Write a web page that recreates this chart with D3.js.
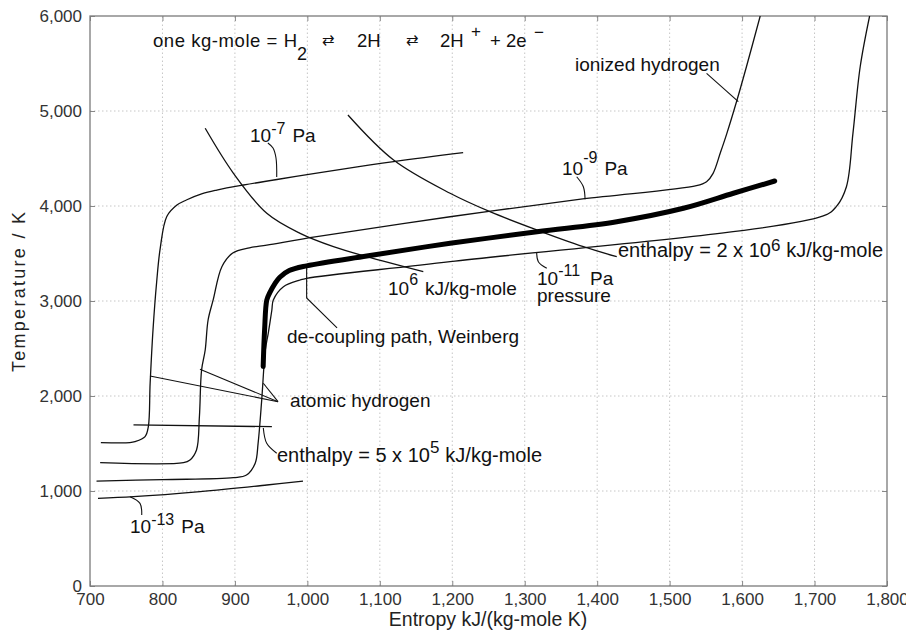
<!DOCTYPE html>
<html>
<head>
<meta charset="utf-8">
<script src="https://cdn.jsdelivr.net/npm/d3@7"></script>
<style>
  body { margin: 0; background: #fff; }
  svg { display: block; }
  text { font-family: "Liberation Sans", Arial, Helvetica, sans-serif; }
</style>
</head>
<body>
<svg id="chart" width="906" height="632"></svg>
<script>
// axis ticks
const xTicks = [700, 800, 900, 1000, 1100, 1200, 1300, 1400, 1500, 1600, 1700, 1800];
const yTicks = [0, 1000, 2000, 3000, 4000, 5000, 6000];

// isobars: [entropy, temperature]
const isobar7 = [[715,1509],[755,1509],[762,1519],[776,1572],[780.5,1677],[783,2134],[787,2700],[792,3200],[797,3560],[806,3890],[820,4010],[833,4063],[855,4130],[875,4168],[912,4221],[958,4279],[1119,4466],[1215,4561]];
const isobar9 = [[714,1298],[829,1298],[838,1326],[847,1431],[851,1782],[854,2274],[859,2484],[863,2800],[870,3011],[882,3361],[897,3505],[920,3560],[944,3589],[1013,3677],[1197,3887],[1380,4074],[1537,4214],[1551,4256],[1560,4344],[1570,4560],[1579,4765],[1593,5116],[1606,5466],[1625,6000]];
const isobar11 = [[709,1105],[800,1120],[898,1140],[916,1168],[928,1292],[932,1502],[937,1958],[942,2484],[946,2660],[951,2905],[953,3011],[967,3151],[990,3221],[999,3239],[1197,3414],[1712,3895],[1730,3993],[1744,4203],[1753,4765],[1763,5466],[1776,6000]];
const isobar13 = [[711,923],[760,940],[852,993],[944,1063],[994,1105]];

// de-coupling path (Weinberg)
const decoupling = [[939,2310],[941,2700],[944,3010],[948,3085],[955,3180],[962,3250],[975,3320],[999,3370],[1082,3474],[1197,3607],[1317,3729],[1427,3835],[1519,3976],[1588,4134],[1645,4263]];

// constant enthalpy lines
const enthalpy1e6 = [[859,4818],[898,4344],[944,3923],[990,3712],[1036,3572],[1082,3466],[1160,3308]];
const enthalpy2e6 = [[1056,4958],[1119,4484],[1197,4134],[1252,3940],[1317,3747],[1381,3572],[1427,3466]];
const enthalpy5e5 = [[760,1695],[951,1677]];

// label leaders
const leader7 = [[945.5,4663],[952.6,4610],[956.7,4505],[957.7,4305]];
const leader9 = [[1371.7,4308],[1380.9,4203],[1383.3,4070]];
const leader11 = [[1316.5,3510],[1318.8,3414],[1330.4,3344]];
const leader13 = [[755.2,940],[769,870],[771.4,747]];
const leaderIonized = [[1551,5397],[1594.8,5098]];
const leaderDecoupling = [[999,3368],[999,3032],[1041,2716]];
const leaderAtomicA = [[782.8,2210],[959.5,1940]];
const leaderAtomicB = [[851.8,2281],[959.5,1940]];
const leaderAtomicC = [[939.2,2134],[959.5,1940]];
const leader5e5 = [[939.2,1663],[943.9,1502],[957.7,1397]];

const svg = d3.select('#chart');
const x = d3.scaleLinear().domain([700, 1800]).range([90, 887]);
const y = d3.scaleLinear().domain([0, 6000]).range([586, 16]);

// grid
const grid = svg.append('g').attr('stroke', '#c6c6c6').attr('stroke-dasharray', '1.5,2.5');
grid.selectAll('.gx').data(xTicks.slice(1, -1)).join('line')
    .attr('x1', d => x(d)).attr('x2', d => x(d))
    .attr('y1', y(0)).attr('y2', y(6000));
grid.selectAll('.gy').data(yTicks.slice(1, -1)).join('line')
    .attr('x1', x(700)).attr('x2', x(1800))
    .attr('y1', d => y(d)).attr('y2', d => y(d));

// axes
const fmt = d3.format(',');
function styleAxis(g) {
    g.select('.domain').remove();
    g.attr('font-family', '"Liberation Sans", Arial, sans-serif').attr('font-size', 17);
    g.selectAll('line').attr('stroke', '#888');
    g.selectAll('text').attr('fill', '#333');
}
svg.append('g').attr('transform', `translate(0,${y(0)})`)
    .call(d3.axisBottom(x).tickValues(xTicks).tickFormat(fmt).tickSize(-5).tickPadding(7)).call(styleAxis);
svg.append('g').attr('transform', `translate(0,${y(6000)})`)
    .call(d3.axisTop(x).tickValues(xTicks).tickFormat('').tickSize(-5)).call(styleAxis);
svg.append('g').attr('transform', `translate(${x(700)},0)`)
    .call(d3.axisLeft(y).tickValues(yTicks).tickFormat(fmt).tickSize(-5).tickPadding(8)).call(styleAxis);
svg.append('g').attr('transform', `translate(${x(1800)},0)`)
    .call(d3.axisRight(y).tickValues(yTicks).tickFormat('').tickSize(-5)).call(styleAxis);

svg.append('rect')
    .attr('x', x(700)).attr('y', y(6000))
    .attr('width', x(1800) - x(700)).attr('height', y(0) - y(6000))
    .attr('fill', 'none').attr('stroke', '#7a7a7a').attr('stroke-width', 1.3);

// clip
svg.append('clipPath').attr('id', 'plot')
    .append('rect').attr('x', x(700)).attr('y', y(6000))
    .attr('width', x(1800) - x(700)).attr('height', y(0) - y(6000));

const smooth = d3.line().x(d => x(d[0])).y(d => y(d[1])).curve(d3.curveCatmullRom.alpha(0.5));
const straight = d3.line().x(d => x(d[0])).y(d => y(d[1]));

const plot = svg.append('g').attr('clip-path', 'url(#plot)').attr('fill', 'none').attr('stroke', '#111');

[isobar7, isobar9, isobar11, isobar13, enthalpy1e6, enthalpy2e6, enthalpy5e5].forEach(s => {
    plot.append('path').attr('d', smooth(s)).attr('stroke-width', 1.3);
});
[leader7, leader9, leader11, leader13, leader5e5].forEach(s => {
    plot.append('path').attr('d', smooth(s)).attr('stroke-width', 1.1);
});
[leaderIonized, leaderDecoupling, leaderAtomicA, leaderAtomicB, leaderAtomicC].forEach(s => {
    plot.append('path').attr('d', straight(s)).attr('stroke-width', 1.1);
});
plot.append('path').attr('d', smooth(decoupling))
    .attr('stroke', '#000').attr('stroke-width', 5).attr('stroke-linecap', 'round');

// labels
function label(px, py, parts, size) {
    size = size || 19;
    const t = svg.append('text').attr('x', px).attr('y', py)
        .attr('font-size', size).attr('fill', '#111');
    let prev = 0;
    parts.forEach(p => {
        const r = p.r || 0;
        t.append('tspan')
            .attr('dy', -(r - prev))
            .attr('dx', p.dx || 0)
            .attr('font-size', p.fs || size)
            .text(p.t);
        prev = r;
    });
}

label(575, 71, [{t: 'ionized hydrogen'}]);
label(250, 142, [{t: '10'}, {t: '-7', r: 8, fs: 16}, {t: 'Pa', dx: 7}]);
label(562, 175, [{t: '10'}, {t: '-9', r: 12, fs: 16}, {t: 'Pa', dx: 7}]);
label(388, 295, [{t: '10'}, {t: '6', r: 10, fs: 16}, {t: 'kJ/kg-mole', dx: 7}]);
label(537, 285, [{t: '10'}, {t: '-11', r: 9, fs: 16}, {t: 'Pa', dx: 10}]);
label(537, 302, [{t: 'pressure'}]);
label(618, 257, [{t: 'enthalpy = 2 x 10'}, {t: '6', r: 6, fs: 17}, {t: 'kJ/kg-mole', dx: 6}], 20);
label(287, 343, [{t: 'de-coupling path, Weinberg'}]);
label(290, 407, [{t: 'atomic hydrogen'}]);
label(277, 462, [{t: 'enthalpy = 5 x 10'}, {t: '5', r: 9, fs: 17}, {t: 'kJ/kg-mole', dx: 6}], 20);
label(130, 533, [{t: '10'}, {t: '-13', r: 8, fs: 16}, {t: 'Pa', dx: 7}]);

// reaction title
const title = svg.append('g').attr('fill', '#111');
title.append('text').attr('x', 153).attr('y', 47).attr('font-size', 18.5)
    .attr('textLength', 144).attr('lengthAdjust', 'spacing').text('one kg-mole = H');
title.append('text').attr('x', 297).attr('y', 60).attr('font-size', 18).text('2');
title.append('text').attr('x', 328).attr('y', 45).attr('font-size', 15).attr('text-anchor', 'middle')
    .attr('font-family', '"DejaVu Sans", sans-serif').text('\u21C4');
title.append('text').attr('x', 357).attr('y', 47).attr('font-size', 18.5).text('2H');
title.append('text').attr('x', 412).attr('y', 45).attr('font-size', 15).attr('text-anchor', 'middle')
    .attr('font-family', '"DejaVu Sans", sans-serif').text('\u21C4');
title.append('text').attr('x', 440).attr('y', 47).attr('font-size', 18.5).text('2H');
title.append('text').attr('x', 471).attr('y', 37).attr('font-size', 17).text('+');
title.append('text').attr('x', 490).attr('y', 47).attr('font-size', 18.5).text('+ 2e');
title.append('text').attr('x', 534).attr('y', 38).attr('font-size', 17).text('\u2212');

// axis titles
svg.append('text').attr('x', 488).attr('y', 626).attr('text-anchor', 'middle')
    .attr('font-size', 19.5).attr('fill', '#222').text('Entropy kJ/(kg-mole K)');
svg.append('text').attr('transform', 'translate(25,292) rotate(-90)').attr('text-anchor', 'middle')
    .attr('font-size', 18).attr('fill', '#222')
    .attr('textLength', 160).attr('lengthAdjust', 'spacing').text('Temperature / K');
</script>
</body>
</html>
